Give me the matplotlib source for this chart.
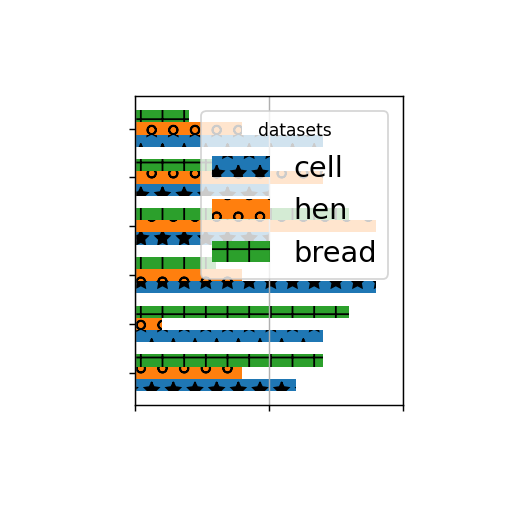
import numpy as np
import matplotlib
matplotlib.use("Agg")
import matplotlib.pyplot as plt

# values per group, bottom group first
cell = [6, 7, 9, 5, 5, 7]
hen = [4, 1, 4, 9, 7, 4]
bread = [7, 8, 3, 8, 3, 2]

series = [("cell", cell, "*"), ("hen", hen, "o"), ("bread", bread, "+")]

dpi = 130
fig = plt.figure(figsize=(512 / dpi, 512 / dpi), dpi=dpi)
ax = fig.add_axes([0.264, 0.209, 0.523, 0.603])

y = np.arange(len(cell))
h = 0.25
for i, (name, vals, hatch) in enumerate(series):
    ax.barh(y + (i - 1) * h, vals, height=h, label=name, hatch=hatch)

ax.set_xlim(0, 10)
ax.set_xticks([0, 5, 10])
ax.set_xticklabels([])
ax.set_yticks(y)
ax.set_yticklabels([])
ax.grid(axis="x")

ax.legend(title="datasets", fontsize=16, title_fontsize=9.5, loc="upper right")

fig.savefig("out.png", dpi=dpi)
